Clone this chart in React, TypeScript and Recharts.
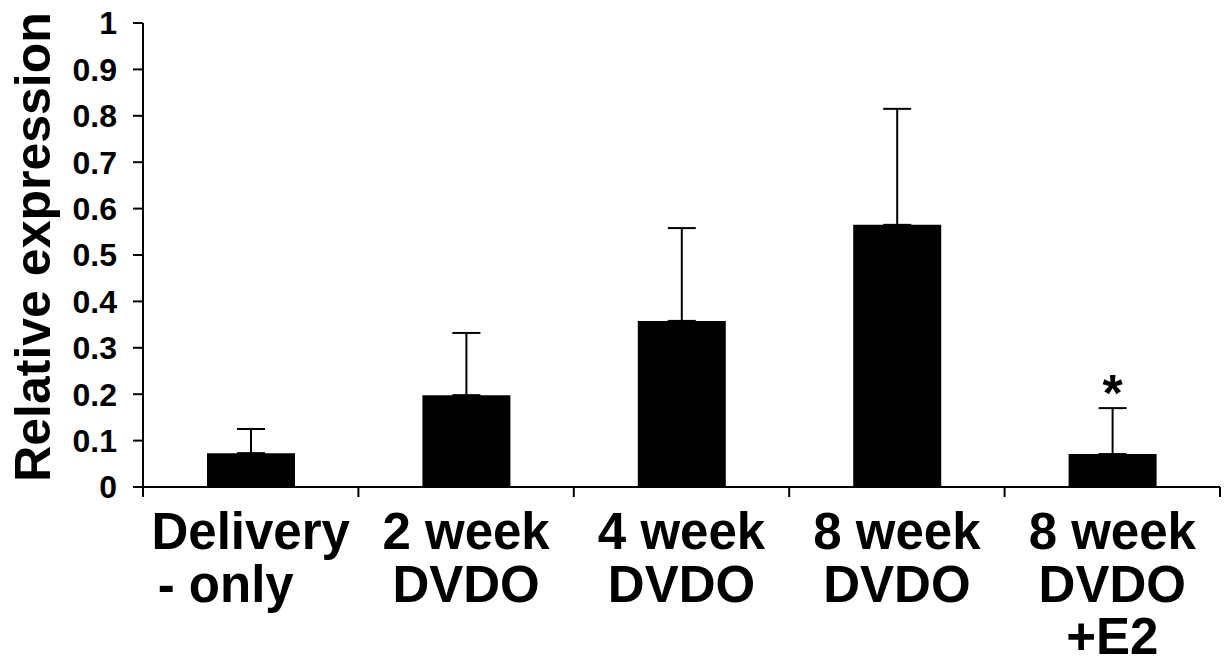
import { BarChart, Bar, XAxis, YAxis, ErrorBar, LabelList, Label } from 'recharts';

const categories = [
  ['Delivery', '- only'],
  ['2 week', 'DVDO'],
  ['4 week', 'DVDO'],
  ['8 week', 'DVDO'],
  ['8 week', 'DVDO', '+E2'],
];
const expression = [0.073, 0.198, 0.358, 0.565, 0.071];
const errors = [0.052, 0.134, 0.2, 0.25, 0.099];
const marks = ['', '', '', '', '*'];
const yTicks = [0, 0.1, 0.2, 0.3, 0.4, 0.5, 0.6, 0.7, 0.8, 0.9, 1];

const W = 1228;
const H = 665;
const margin = { top: 23, right: 8, left: 0, bottom: 0 };
const Y_AXIS_W = 143;
const X_AXIS_H = 178;
const FONT = '"Liberation Sans", Arial, sans-serif';

const data = categories.map((c, i) => ({
  name: c.join(' '),
  value: expression[i],
  // only the upper half of the error bar is drawn
  err: [0, errors[i]],
  mark: marks[i],
}));

const bandW = (W - margin.left - margin.right - Y_AXIS_W) / categories.length;

const CategoryTick = (props: any) => {
  const { x, y, index } = props;
  const lines = categories[index] ?? [];
  const axisY = y - 10;
  return (
    <g>
      <line x1={x - bandW / 2} x2={x - bandW / 2} y1={axisY} y2={axisY + 10} stroke="#000" strokeWidth={2} />
      {index === categories.length - 1 && (
        <line x1={x + bandW / 2} x2={x + bandW / 2} y1={axisY} y2={axisY + 10} stroke="#000" strokeWidth={2} />
      )}
      {lines.map((t, i) => (
        <text
          key={i}
          x={x + (t.startsWith('-') ? -25 : 0)}
          y={axisY + 62 + i * 52.5}
          textAnchor="middle"
          fontFamily={FONT}
          fontWeight="bold"
          fontSize={51}
          fill="#000"
        >
          {t}
        </text>
      ))}
    </g>
  );
};

const YTitle = (props: any) => {
  const vb = props.viewBox ?? { x: 0, y: 23, width: 143, height: 464 };
  const cx = vb.x + 50;
  const cy = vb.y + vb.height / 2 - 8;
  return (
    <text
      x={cx}
      y={cy}
      transform={`rotate(-90, ${cx}, ${cy})`}
      textAnchor="middle"
      fontFamily={FONT}
      fontWeight="bold"
      fontSize={50}
      fill="#000"
    >
      Relative expression
    </text>
  );
};

const Star = (props: any) => {
  const { x, y, width, height, value, index } = props;
  if (!value) return null;
  const perUnit = height / expression[index];
  const top = y - errors[index] * perUnit;
  return (
    <text x={x + width / 2} y={top + 3} textAnchor="middle" fontFamily={FONT} fontWeight="bold" fontSize={52} fill="#000">
      {value}
    </text>
  );
};

export default function App() {
  return (
    <div style={{ position: 'absolute', left: 0, top: 0, width: W, height: H, background: '#fff' }}>
      <BarChart width={W} height={H} data={data} margin={margin} barSize={88}>
        <XAxis
          dataKey="name"
          height={X_AXIS_H}
          interval={0}
          tickLine={false}
          tickSize={10}
          tickMargin={0}
          axisLine={{ stroke: '#000', strokeWidth: 2 }}
          tick={<CategoryTick />}
        />
        <YAxis
          width={Y_AXIS_W}
          domain={[0, 1]}
          ticks={yTicks}
          interval={0}
          tickSize={10}
          tickMargin={16}
          axisLine={{ stroke: '#000', strokeWidth: 2 }}
          tickLine={{ stroke: '#000', strokeWidth: 2 }}
          tick={{ fill: '#000', fontSize: 32, fontWeight: 'bold', fontFamily: FONT }}
        >
          <Label content={<YTitle />} />
        </YAxis>
        <Bar dataKey="value" fill="#000" isAnimationActive={false}>
          <ErrorBar dataKey="err" direction="y" width={14} stroke="#000" strokeWidth={2} isAnimationActive={false} />
          <LabelList dataKey="mark" content={<Star />} />
        </Bar>
      </BarChart>
    </div>
  );
}
